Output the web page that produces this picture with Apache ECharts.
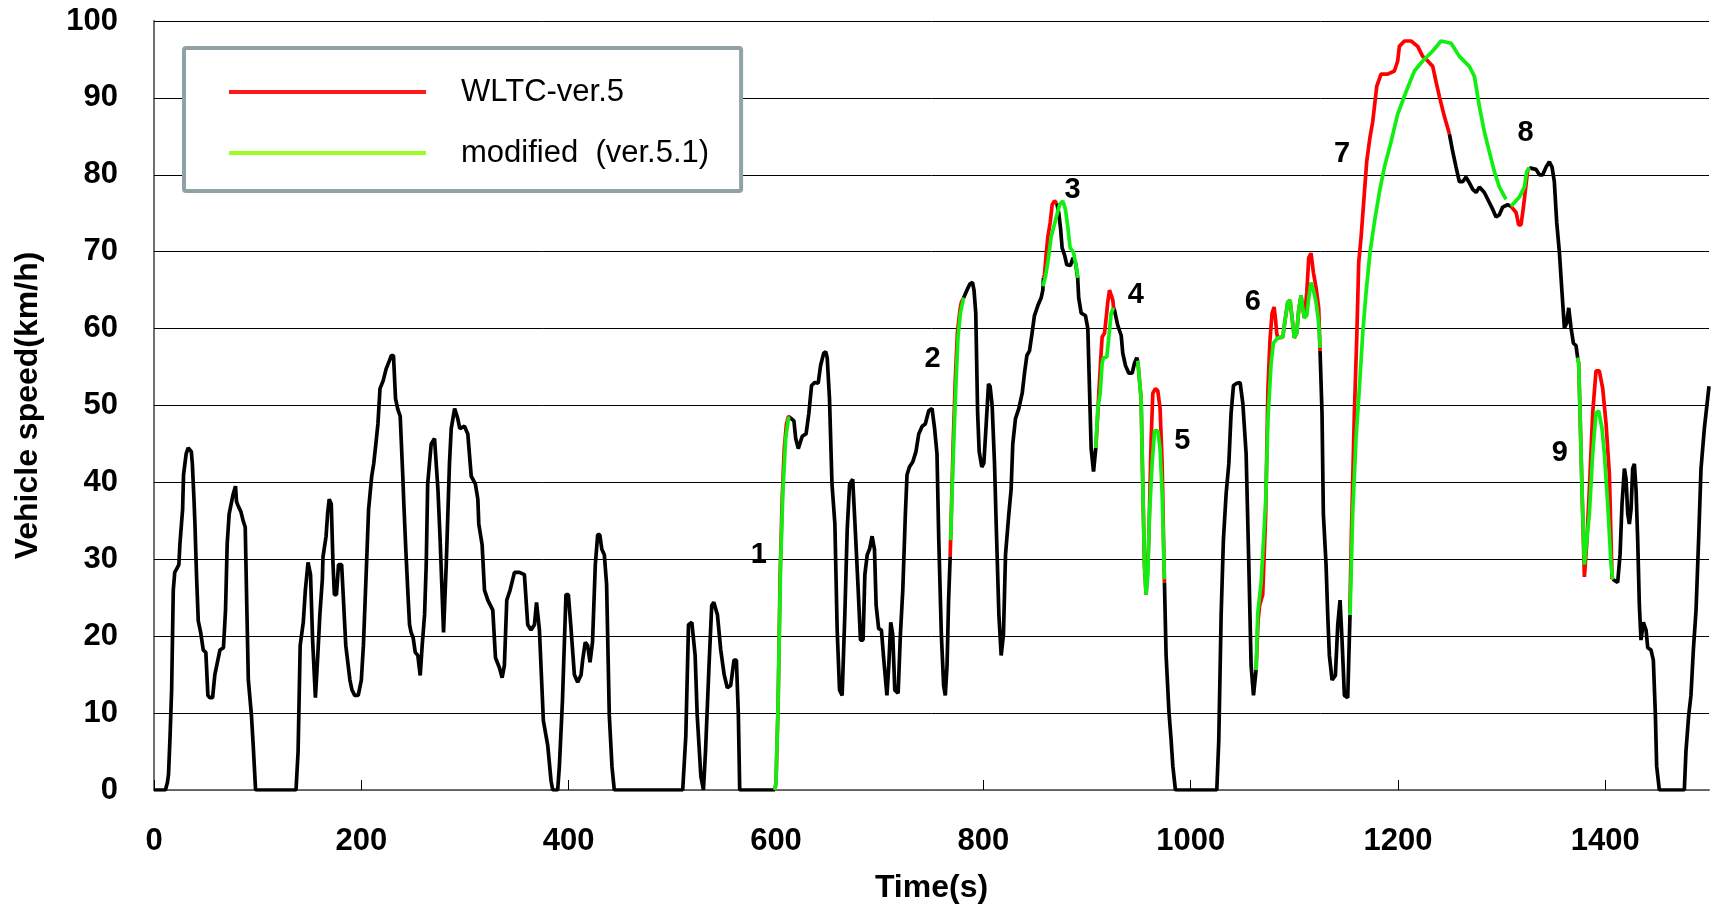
<!DOCTYPE html>
<html>
<head>
<meta charset="utf-8">
<script src="https://cdn.jsdelivr.net/npm/echarts@6/dist/echarts.min.js"></script>
<style>
html,body{margin:0;padding:0;background:#fff;}
#c{width:1713px;height:906px;}
</style>
</head>
<body>
<div id="c"></div>
<script>
// ---- data (time s, speed km/h); null separates segments ----
const base = [
[0,0],[11,0],[13,1],[14,2],[15.5,7],[17,13],[18.6,26],[20,28.3],[22,28.8],[24,29.3],[25,32],[27.6,36.5],[28.5,41],[31,43.7],[33,44.5],[34.7,44.7],[36,44],[37,42.4],[38.5,38],[39.5,34.6],[41,28],[42.7,22],[45,20.5],[47.5,18.2],[50,17.9],[52,12.3],[54,12],[56.5,12],[58.7,15],[61,16.5],[63.6,18.2],[67,18.5],[69,23.4],[70.6,32],[72.5,35.9],[76.4,38.5],[78.6,39.5],[79.6,37.5],[81,37],[83.8,36.2],[86,35],[88,34.2],[89.5,24],[91,14.3],[94,9.7],[95.7,5.8],[98,0],
[137,0],[139,5],[141,18.8],[144,21.8],[146,26],[148.6,29.6],[150,29.5],[151,28],[153,19.5],[155.7,12],[158,17.5],[160,22.8],[162.4,27.4],[163,30.3],[166,33],[167.5,36],[169,37.8],[171,37.2],[172.7,29.3],[174,25.4],[176,25.4],[178,29.3],[181,29.3],[185,18.8],[189,14.3],[191,13],[193.6,12.3],[197,12.3],[200,14.3],[202,18.8],[205,29.3],[207,36.5],[210,40.8],[212,42.5],[214,45],[216,47.6],[218,52.2],[221,53.2],[224,54.8],[227,55.8],[229,56.5],[231,56.5],[233,50.9],[235,49.6],[237.5,48.6],[240,40.8],[241,37.2],[243,31],[245,25.4],[246.5,21.5],[248,20.5],[250,19.8],[252,17.9],[254.5,17.5],[256.8,14.9],[258.7,18.8],[261,22.8],[262.6,29.3],[264,39.8],[267.4,45],[270.6,45.7],[273.9,39.1],[276,32.6],[279.3,20.5],[281.9,29.3],[285,42.4],[286.7,47],[290,49.6],[293,48.3],[295,47],[299.5,47.3],[302.7,46.3],[306,40.8],[310,39.8],[312.4,37.8],[313.3,34.6],[316.5,31.9],[318.8,26],[322,24.7],[326.8,23.4],[329.4,17.2],[333.2,15.9],[335.8,14.6],[338,16.2],[340.3,24.7],[343.5,26],[347.7,28.3],[352.5,28.3],[357.3,28],[360.5,21.5],[363.7,20.8],[367,21.5],[369,24.4],[371.8,20.8],[375.6,9],[379.8,5.8],[383,1.2],[384.6,0],[389.4,0],[391,3],[394,11.6],[397.4,25.4],[399.7,25.4],[402,21.5],[405.5,15],[408.7,14],[412,15],[413.5,16.9],[416,19.2],[418.3,18.8],[420.6,16.6],[423,19.2],[425.7,29.3],[428,33.2],[430,33.2],[432,31.3],[434.4,30.6],[436.6,26.7],[439.2,9.7],[441.8,3],[444,0],
[510,0],[513,7],[515.6,21.5],[518.8,21.8],[522,17.5],[524,9.7],[527.5,1.8],[530,0],[532,5],[535.4,16.2],[538,24],[540,24.4],[543.5,22.8],[546.7,18.2],[550,15],[553,13.3],[556.3,13.6],[559.5,16.9],[561.8,16.9],[563.7,9.7],[565,0],[599,0],
null,
[613,48.5],[614,48.4],[617.3,48],[619,45.7],[621.5,44.4],[625.3,46],[629,46.3],[631.7,49],[634.3,52.6],[637.5,53],[640.7,52.9],[643,55.2],[646,56.8],[648,57],[649.4,56.2],[651.6,50.9],[654,39.8],[656.8,34.6],[659,20.8],[661.3,13],[663.8,12.3],[666.4,22.8],[668.7,33.9],[671,39.8],[674,40.4],[676.7,33.2],[679.3,26],[681.5,19.5],[684,19.5],[685.7,28],[688,30.6],[690.2,31.3],[692.7,33],[695,31.3],[696.6,24],[699,21],[701.7,20.8],[704,16.9],[707,12.3],[708.8,16.2],[710.7,21.8],[712.6,20.2],[714.6,13],[717.8,12.6],[720,20.2],[722.3,26],[724.8,35.9],[726.4,41],[728.7,42],[732,42.7],[735,44],[737.7,46.3],[741,47.3],[744,47.6],[747.3,49.3],[750.5,49.6],[753,47],[755.3,43.7],[757,32.6],[759.5,20.2],[761.7,13.6],[763.3,12.3],[765,16.2],[766.5,24.7],[768,30.3],
null,
[781,64],[784.2,65],[787,65.8],[789.5,66],[791,65],[792.7,62],[794.5,49],[796,44],[798.5,42],[800.5,42.5],[802.5,47],[805,52.8],[806.5,52.5],[808.5,50],[810.8,42.4],[812.4,34.6],[815,22.8],[817.2,17.5],[819.4,20.2],[821.4,30.6],[824.6,35.9],[826.8,39.1],[828.4,45],[831,48.3],[834.2,49.6],[837.5,51.6],[839.7,54.2],[842,56.5],[844.5,57.1],[847,59.4],[849.3,61.7],[852.6,63],[855.8,64],[857.4,65],[858,66.6],
null,
[870.9,76.3],[872.8,75],[874.5,73],[876,70.5],[878.5,69.5],[880.5,68.3],[884,68.2],[886.5,69.2],[889,68.5],[891,66.6],[892,64],[894.4,62],[898.5,61.7],[900.8,60],[902.4,52.2],[904,44.4],[906.3,41.4],[908.5,44.5],
null,
[925.5,62.7],[926.5,62.4],[929.7,60.4],[933,59.1],[934.5,56.8],[937.1,55.2],[940.3,54.2],[943.5,54.2],[945.8,55.5],[948,56.2],[949,55.8],
null,
[974.7,27],[976.3,17.5],[979,10.3],[981.2,6.4],[982.8,3.1],[985.3,0],[1025.2,0],[1027.1,6.4],[1029.4,22.8],[1031.6,32.6],[1034.2,38.5],[1036.8,42.4],[1039,49],[1041.3,52.6],[1044.5,52.9],[1047.7,53],[1050.3,50.3],[1053.5,43.7],[1056.1,29.3],[1058.3,16.2],[1060.6,12.3],[1063.1,15.6],
null,
[1124.8,57.1],[1126.7,49],[1128,35.9],[1130.6,29.3],[1132.2,22.8],[1133.8,17.5],[1136.4,14.3],[1138,14.2],[1139.6,14.9],[1141.9,21.5],[1144.1,24.7],[1146,19.5],[1148.3,12.3],[1151.5,12],[1153.7,22.8],
null,
[1249.6,85.3],[1252.8,83],[1256,81],[1259.2,79.1],[1262.4,79.1],[1265.6,79.7],[1268.2,79.1],[1272.1,78.1],[1275.3,77.7],[1278.5,78.4],[1283.3,77.7],[1288.1,76.4],[1291.4,75.5],[1294.6,74.5],[1297.8,74.8],[1301,75.8],[1305.8,76.1],[1309,75.9],
null,
[1326.7,80.9],[1328.3,81],[1333.2,80.7],[1336.4,80],[1339.6,80],[1342.8,81],[1346,81.7],[1348.6,81],[1350.8,79.1],[1353.1,73.8],[1355.7,69.9],[1358.2,64.7],[1360.5,60.1],[1362.7,60.7],[1364.7,62.7],[1366.9,60.1],[1369.2,58.1],[1371.7,57.8],[1373.3,56.2],
null,
[1407.1,27.4],[1408.7,27.4],[1411.9,27],[1414.2,30.6],[1416.1,37.2],[1418.4,41.8],[1420,40.4],[1421.6,35.9],[1423.2,34.6],[1424.8,36.5],[1426.4,41.8],[1428,42.4],[1429.6,39.1],[1431.2,32.6],[1432.8,24.1],[1434.4,19.5],[1436.7,21.8],[1439.3,20.8],[1440.9,18.5],[1444.1,18.2],[1446.3,16.9],[1448.3,9.7],[1449.5,3.1],[1452.1,0],[1476.2,0],[1477.8,5.1],[1480.4,9.7],[1482.6,12.3],[1484.9,18.2],[1487.5,23.4],[1490,32.6],[1492.3,41.8],[1495.5,47],[1498.7,50.9],[1500,52.5]
];

const ver5 = [
[599,0],[600,1],[602,11],[604,28],[606,38],[608,44.5],[610,47.5],[612,48.6],[613,48.5],
null,
[768,30.3],[769.5,38],[771,45.5],[773,53.5],[775,59.5],[777.5,62.5],[779,63.5],[781,64],
null,
[858,66.6],[859,67],[860.5,69.5],[862.2,71.9],[864.5,73.8],[866.4,76.1],[868.6,76.6],[870.9,76.3],
null,
[908.5,44.5],[910,48],[911.4,51.6],[913.6,56.8],[914.6,58.9],[916.9,59.4],[918.5,61.4],[920,63.4],[921.7,65],[923.3,65.2],[924.9,63.7],[925.8,62.5],
null,
[949,55.8],[952.2,50.9],[953.8,39.8],[955.4,29.3],[957,25.4],[958.5,29],[959.6,32.6],[961.9,45.7],[963.5,51.6],[966,52.2],[968.3,51.9],[970.5,49.6],[972.5,42.4],[974.2,30],[974.7,27],
null,
[1063.1,15.6],[1065,22],[1066.5,24],[1069.5,25.4],[1072.3,35.5],[1074.5,52],[1076.5,58.5],[1078.5,62],[1080.5,62.8],[1082,61],[1083,59.4],[1084,58.8],[1088.8,58.9],[1091.4,61.4],[1093.6,63.4],[1095.9,63.7],[1097.8,61.4],[1100,58.8],[1102.3,59.4],[1104.2,62.4],[1106.5,64.3],[1108.1,62.7],[1109.7,61.4],[1112,64.7],[1113.9,69.2],[1116.1,69.8],[1118.4,67.3],[1121,65.3],[1123.5,62.7],[1124.8,57.1],
null,
[1153.5,23],[1155,33],[1157.9,49],[1160.2,58.8],[1162.1,68.6],[1164.4,71.9],[1167.6,77.7],[1169.8,81.7],[1173,84.9],[1175.6,86.9],[1179.5,91.5],[1183.6,93.1],[1190.1,93.1],[1196.5,93.5],[1199.7,94.8],[1201.3,96.7],[1206.2,97.4],[1212.6,97.4],[1219,96.7],[1223.8,95.4],[1228.7,94.8],[1233.5,94.1],[1236.7,92.1],[1239.9,90.2],[1244.7,87.6],[1249.6,85.3],
null,
[1309,75.9],[1310.6,75.8],[1313.9,75.1],[1316.4,73.5],[1318.7,73.5],[1321,75.8],[1323.5,78.7],[1325,80.5],[1326.7,80.9],
null,
[1373.3,56.2],[1374.3,55.5],[1375.6,49],[1377.5,39.1],[1379.8,27.7],[1382,31.9],[1384.6,39.1],[1387.8,49],[1391,54.5],[1394.2,54.5],[1397.5,52.2],[1400.7,47.6],[1403.9,41.1],[1406.5,27.4],[1407.1,27.4]
];

const ver51 = [
[599,0],[600,1],[602,11],[604.4,29.3],[606.7,39],[609.3,45.7],[612,48.3],[613,48.5],
null,
[768.5,32.5],[769.8,38.5],[771.4,45],[773.6,52.9],[775.5,58.8],[777.8,62],[781,64],
null,
[857.5,65.5],[860,66.8],[862.2,68.6],[865.4,71.9],[869.6,74.1],[873.5,76.1],[876.7,76.6],[879.2,75.5],[881.5,73.2],[883.7,70.5],[887,69.9],[890.2,67.6],[891,66.6],
null,
[908.5,44.5],[910.4,49.6],[912.7,51.6],[914.6,55.5],[915.9,56.2],[919.1,56.3],[921,58.8],[923.3,62],[925.5,62.7],
null,
[949,55.8],[952.2,50.9],[953.8,39.8],[955.4,29.3],[957,25.4],[958.7,28],[960.3,35.9],[962.8,42.4],[965.1,46.7],[968.3,46.7],[970.5,44.4],[972.5,38.5],[974.7,27.4],
null,
[1063.1,15.6],[1064.7,23],[1068,27],[1070.5,33],[1072.5,38],[1074.5,48],[1077.6,55.5],[1079.8,58.1],[1084,58.8],[1088.8,58.9],[1091.4,61.4],[1093.6,63.4],[1095.9,63.7],[1097.8,61.4],[1100,58.8],[1102.3,59.4],[1104.2,62.4],[1106.5,64.3],[1108.1,62.7],[1109.7,61.4],[1112,61.7],[1113.9,64],[1116.1,66],[1118.4,65],[1121,63.4],[1123.5,60.7],[1124.8,57.5],
null,
[1153.7,22.8],[1156.3,35.9],[1159.5,45.7],[1162.7,52.2],[1166,59.4],[1169.2,64.7],[1173,69.9],[1177.2,73.8],[1182,77.7],[1186.9,81],[1193.3,84.3],[1199.7,87.9],[1207.8,90.8],[1215.8,93.5],[1223.8,94.8],[1233.5,96.1],[1241.5,97.4],[1251.2,97.1],[1259.2,95.4],[1268.8,94.1],[1273.7,92.8],[1278.5,88.9],[1283.3,85.6],[1288.1,83],[1293,80.4],[1297.8,78.4],[1304.2,76.8],
null,
[1309,75.9],[1310.6,76.1],[1317.1,77.1],[1321.9,78.4],[1324.1,80.4],[1326.7,80.9],
null,
[1373.3,56.2],[1374.3,55.5],[1375.6,49],[1377.5,39.1],[1379.8,29.3],[1381.4,29.3],[1384.6,35.9],[1387.8,43.7],[1391,49],[1393.6,49.3],[1396.8,47],[1399.1,43.7],[1402.3,37.2],[1405.5,29.3],[1407.1,27.4]
];

// segment number tags: [time, speed, text]
const tags = [
[583.5,30.6,'1'],[751,56.1,'2'],[886,78,'3'],[947,64.4,'4'],[992,45.4,'5'],
[1060,63.4,'6'],[1146,82.7,'7'],[1323,85.5,'8'],[1356,43.8,'9']
];

const xMin = 0, xMax = 1500, xStep = 200;
const yMin = 0, yMax = 100, yStep = 10;
const legendNames = ['WLTC-ver.5', 'modified  (ver.5.1)'];

const FONT = "'Liberation Sans', Arial, sans-serif";
const chart = echarts.init(document.getElementById('c'), null, {renderer: 'canvas'});

chart.setOption({
  animation: false,
  backgroundColor: '#ffffff',
  grid: {left: 154, right: 4, top: 21, bottom: 116, containLabel: false, outerBoundsMode: 'none'},
  legend: {
    data: [
      {name: legendNames[0], itemStyle: {color: '#ff1a1a'}},
      {name: legendNames[1], itemStyle: {color: '#9cff1e'}}
    ],
    orient: 'vertical',
    left: 184, top: 48,
    padding: [28, 32, 22, 45],
    itemWidth: 197, itemHeight: 4, itemGap: 29,
    icon: 'rect',
    selectedMode: false,
    backgroundColor: '#ffffff',
    borderColor: '#8fa3a6', borderWidth: 4, borderRadius: 2,
    textStyle: {fontFamily: FONT, fontSize: 31, color: '#000', lineHeight: 32, padding: [0, 0, 0, 30]}
  },
  xAxis: [{
    type: 'value', min: xMin, max: xMax, interval: xStep,
    name: 'Time(s)', nameLocation: 'middle', nameGap: 82,
    nameTextStyle: {fontFamily: FONT, fontSize: 32, fontWeight: 'bold', color: '#000'},
    axisLine: {lineStyle: {color: '#000', width: 1.5}},
    axisTick: {inside: true, length: 10, lineStyle: {color: '#000', width: 1}},
    axisLabel: {fontFamily: FONT, fontSize: 31, fontWeight: 'bold', color: '#000', margin: 36,
                showMaxLabel: false, formatter: v => String(v)},
    splitLine: {show: false}
  }, {
    type: 'value', min: xMin, max: xMax, position: 'top',
    axisLine: {show: true, lineStyle: {color: '#808080', width: 1.5}},
    axisTick: {show: false}, axisLabel: {show: false}, splitLine: {show: false}
  }],
  yAxis: [{
    type: 'value', min: yMin, max: yMax, interval: yStep,
    name: 'Vehicle speed(km/h)', nameLocation: 'middle', nameGap: 110,
    nameTextStyle: {fontFamily: FONT, fontSize: 32, fontWeight: 'bold', color: '#000'},
    axisLine: {show: true, lineStyle: {color: '#000', width: 1.5}},
    axisTick: {show: true, inside: true, length: 11, lineStyle: {color: '#000', width: 1}},
    axisLabel: {fontFamily: FONT, fontSize: 31, fontWeight: 'bold', color: '#000', margin: 36},
    splitLine: {show: true, lineStyle: {color: '#000', width: 1}}
  }, {
    type: 'value', min: yMin, max: yMax, interval: yStep, position: 'right',
    axisLine: {show: true, lineStyle: {color: '#808080', width: 1.5}},
    axisTick: {show: false}, axisLabel: {show: false}, splitLine: {show: false}
  }],
  series: [
    {name: 'base', type: 'line', data: base, showSymbol: false, symbol: 'none',
     lineStyle: {color: '#000000', width: 3.7}, itemStyle: {color: '#000'}, silent: true, z: 2},
    {name: legendNames[0], type: 'line', data: ver5, showSymbol: false, symbol: 'none',
     lineStyle: {color: '#ff0000', width: 3.7}, itemStyle: {color: '#ff0000'}, silent: true, z: 3},
    {name: legendNames[1], type: 'line', data: ver51, showSymbol: false, symbol: 'none',
     lineStyle: {color: '#11ee11', width: 3.7}, itemStyle: {color: '#11ee11'}, silent: true, z: 4},
    {name: 'tags', type: 'scatter', data: tags, symbolSize: 0, silent: true, z: 5,
     encode: {x: 0, y: 1}, itemStyle: {color: '#000', opacity: 1},
     label: {show: true, position: 'inside', formatter: p => p.value[2],
             fontFamily: FONT, fontSize: 29, fontWeight: 'bold', color: '#000', opacity: 1,
             textBorderWidth: 0, textBorderColor: 'transparent'}}
  ]
});
</script>
</body>
</html>
